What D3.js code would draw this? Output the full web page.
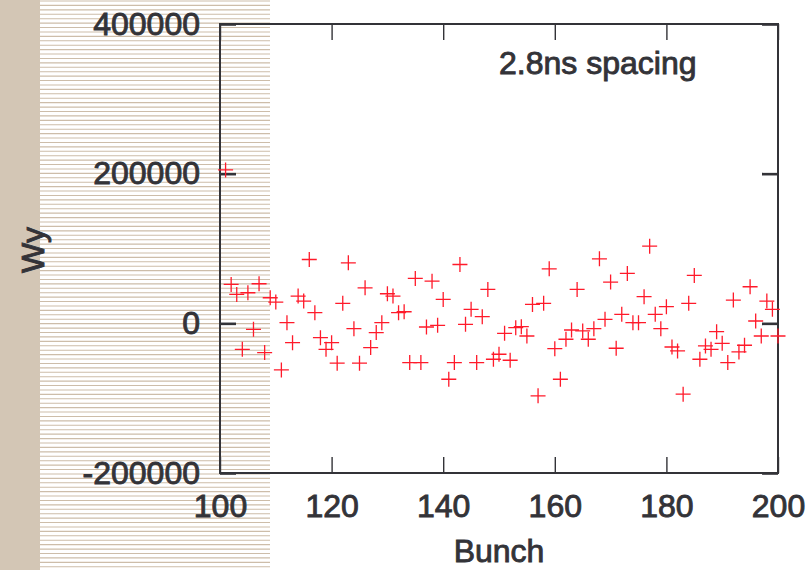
<!DOCTYPE html>
<html>
<head>
<meta charset="utf-8">
<title>Wy vs Bunch</title>
<script src="https://d3js.org/d3.v7.min.js"></script>
<style>
  body { margin: 0; background: #fff; }
  text { font-family: "Liberation Sans", Arial, sans-serif; fill: #333338; stroke: #333338; stroke-width: 0.9px; }
</style>
</head>
<body>
<script>
// bunch numbers and Wy values
const bunches = d3.range(101, 201);
const wy = [
  205000, 52000, 38600, -34700, 40900, -8000, 52900, -39100, 34200, 28400,
  -62200, 900, -25800, 36400, 29800, 85300, 14200, -19100, -34700, -25800,
  -53300, 26700, 80900, -7100, -53300, 47500, -32400, -12400, 900, 39500,
  36400, 14200, 15500, -52400, 60000, -52400, -4900, 56400, -2700, 32000,
  -74700, -52400, 78600, -1300, 18700, -52400, 8900, 45300, -48000, -41300,
  -13300, -49300, -5800, -4400, -16900, 25300, -96900, 26700, 72900, -33800,
  -74700, -21300, -8900, 45300, -10200, -21300, -7100, 86200, 5300, 55100,
  -33300, 12000, 66700, 900, 900, 35600, 103100, 12000, -7100, 22200,
  -31600, -36900, -94700, 26700, 64000, -48000, -30200, -34700, -11100, -26700,
  -52400, 31100, -38200, -29300, 48900, 3100, -16900, 29800, 18700, -16900
];
const xTicks = [100, 120, 140, 160, 180, 200];
const yTicks = [-200000, 0, 200000, 400000];
const label = "2.8ns spacing";

const width = 807, height = 570;
const mLeft = 220, mRight = 778, mTop = 24, mBottom = 473;

const svg = d3.select("body").append("svg")
  .attr("width", width)
  .attr("height", height);

// page decoration: beige band and striped strip
svg.append("rect").attr("x", 0).attr("y", 0).attr("width", 40).attr("height", height)
  .attr("fill", "#d3c6b5");
svg.append("g").selectAll("line")
  .data(d3.range(1, height, 4.42))
  .join("line")
  .attr("x1", 40).attr("x2", 270)
  .attr("y1", d => d).attr("y2", d => d)
  .attr("stroke", "#cdbda9")
  .attr("stroke-width", 1.1);

const x = d3.scaleLinear().domain([100, 200]).range([mLeft, mRight]);
const y = d3.scaleLinear().domain([-200000, 400000]).range([mBottom, mTop]);

// axes, ticks pointing inward
const gLeft = svg.append("g").attr("class", "axis")
  .attr("transform", `translate(${mLeft},0)`)
  .call(d3.axisLeft(y).tickValues(yTicks).tickSizeInner(-16).tickSizeOuter(0)
    .tickPadding(20).tickFormat(d => String(d)));
const gRight = svg.append("g").attr("class", "axis")
  .attr("transform", `translate(${mRight},0)`)
  .call(d3.axisRight(y).tickValues(yTicks).tickSizeInner(-16).tickSizeOuter(0)
    .tickFormat(""));
const gBottom = svg.append("g").attr("class", "axis")
  .attr("transform", `translate(0,${mBottom})`)
  .call(d3.axisBottom(x).tickValues(xTicks).tickSizeInner(-16).tickSizeOuter(0)
    .tickPadding(21).tickFormat(d => String(d)));
const gTop = svg.append("g").attr("class", "axis")
  .attr("transform", `translate(0,${mTop})`)
  .call(d3.axisTop(x).tickValues(xTicks).tickSizeInner(-16).tickSizeOuter(0)
    .tickFormat(""));

[gLeft, gRight, gBottom, gTop].forEach(g => {
  g.select(".domain").remove();
  g.selectAll("text").attr("font-size", 32).attr("fill", "#333338");
});
[gLeft, gRight].forEach(g => g.selectAll(".tick line").attr("stroke", "#333338").attr("stroke-width", 2.6));
[gBottom, gTop].forEach(g => g.selectAll(".tick line").attr("stroke", "#333338").attr("stroke-width", 1.4));

// frame
svg.append("rect")
  .attr("x", mLeft).attr("y", mTop)
  .attr("width", mRight - mLeft).attr("height", mBottom - mTop)
  .attr("fill", "none")
  .attr("stroke", "#333338")
  .attr("stroke-width", 2);

// points as plus signs
svg.append("g").selectAll("path")
  .data(bunches.map((b, i) => ({ b: b, v: wy[i] })))
  .join("path")
  .attr("transform", d => `translate(${x(d.b)},${y(d.v)})`)
  .attr("d", "M-7.5,0H7.5M0,-7.5V7.5")
  .attr("stroke", "#ff1a2a")
  .attr("stroke-width", 1.3)
  .attr("fill", "none");

// labels
svg.append("text")
  .attr("x", 499).attr("y", 74)
  .attr("font-size", 32)
  .text(label);

svg.append("text")
  .attr("x", (mLeft + mRight) / 2).attr("y", 562)
  .attr("text-anchor", "middle")
  .attr("font-size", 32)
  .text("Bunch");

svg.append("text")
  .attr("transform", "translate(44,250) rotate(-90)")
  .attr("text-anchor", "middle")
  .attr("font-size", 32)
  .text("Wy");
</script>
</body>
</html>
